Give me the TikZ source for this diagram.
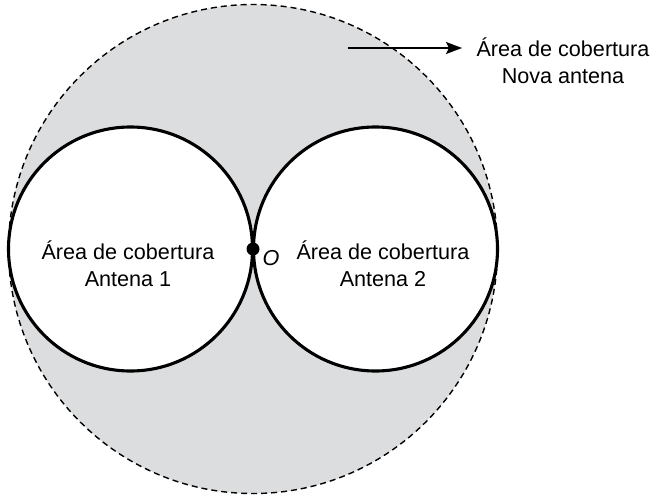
\documentclass[tikz,border=0pt]{standalone}
\usepackage{fontspec}
\setmainfont{Liberation Sans}
\usetikzlibrary{arrows.meta}
\definecolor{cover}{HTML}{DCDDDF}
\begin{document}
\begin{tikzpicture}[x=1pt,y=-1pt,
  lbl/.style={align=center,inner sep=0pt,font=\fontsize{21.6}{27}\selectfont},
  ring/.style={draw=black,line width=3.1pt,fill=white},
  outer/.style={draw=black,line width=1.4pt,dash pattern=on 6pt off 4pt,fill=cover}]
\useasboundingbox (0,0) rectangle (653,495);
\coordinate (c0) at (253,249);
\coordinate (c1) at (130.5,249);
\coordinate (c2) at (375.5,249);
\draw[outer] (c0) circle[radius=244.5];
\draw[ring] (c1) circle[radius=122];
\draw[ring] (c2) circle[radius=122];
\fill (c0) circle[radius=6.5];
\node[lbl] (o) at (271,258) {\itshape O};
\node[lbl] (a1) at (128,264) {Área de cobertura\\Antena 1};
\node[lbl] (a2) at (383,264) {Área de cobertura\\Antena 2};
\node[lbl] (nova) at (563,61) {Área de cobertura\\Nova antena};
\coordinate (arrs) at (348,48);
\coordinate (arre) at (462,48);
\draw[line width=1.6pt,-{Stealth[length=16pt,width=12pt,inset=3pt]}] (arrs) -- (arre);
\end{tikzpicture}
\end{document}
